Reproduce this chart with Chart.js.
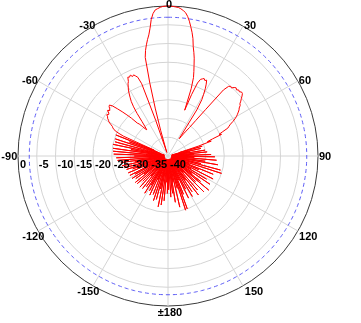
<!DOCTYPE html>
<html><head><meta charset="utf-8">
<script src="https://cdn.jsdelivr.net/npm/chart.js@4.4.1/dist/chart.umd.min.js"></script>
<style>html,body{margin:0;padding:0;background:#fff;}canvas{display:block;}</style>
</head><body>
<canvas id="c" width="361" height="323"></canvas>
<script>
// Angle categories: 1 degree steps, clockwise from 0 (top)
const angleStep = 1;
const angles = Array.from({length: 360 / angleStep}, (_, i) => i * angleStep);

const gain0to89 = [
  0, -0.05, -0.1, -0.2, -0.3, -0.6, -1.0, -1.5, -2.4, -3.6,
  -5.0, -6.4, -8.0, -10.1, -11.5, -13.0, -14.8, -16.4, -18.0, -21.0,
  -27.0, -22.5, -19.0, -17.8, -17.5, -17.2, -17.6, -17.3, -18.3, -19.5,
  -21.0, -22.5, -25.5, -34.5, -33.8, -32.8, -31.8, -30.5, -28.0, -24.0,
  -17.0, -15.4, -15.0, -15.2, -14.6, -14.3, -14.6, -14.2, -14.4, -14.0,
  -14.1, -14.6, -15.2, -15.7, -16.3, -16.5, -17.1, -17.4, -17.9, -18.4,
  -18.9, -19.6, -20.4, -21.3, -21.9, -22.4, -24.0, -25.2, -24.6, -27.3,
  -28.8, -27.8, -31.5, -37, -30.5, -39, -36, -31, -38, -34,
  -39, -30, -37, -38, -29.5, -39, -33, -38, -28.5, -37
];
const gain90to179 = [
  -39, -27.5, -38, -33, -39, -27, -37, -39, -30, -38,
  -26.5, -39, -36, -31, -39, -25.5, -38, -39, -25, -37,
  -34, -39, -27, -38, -31, -39, -37, -26.5, -39, -33,
  -38, -28, -39, -36, -26.5, -38, -32, -39, -29, -37,
  -25.8, -39, -38, -30, -39, -26.5, -37, -34, -39, -28,
  -38, -39, -26.8, -37, -32, -39, -28.5, -38, -35, -27.4,
  -39, -37, -30, -39, -27.5, -38, -33, -39, -29, -37,
  -25, -39, -24.8, -38, -31, -39, -36, -26, -39, -33,
  -37, -27.5, -39, -30, -38, -35, -29, -39, -37, -31
];
const gainMinus180toMinus91 = [
  -39, -30, -37, -33, -39, -28, -38, -35, -26.8, -39,
  -36, -26.2, -39, -31, -38, -28, -39, -35, -27.5, -38,
  -39, -29, -37, -33, -39, -28.5, -38, -36, -29.5, -39,
  -31, -38, -28.3, -39, -35, -30, -38, -39, -29, -37,
  -33, -39, -28.8, -38, -36, -30.5, -39, -34, -29, -38,
  -39, -28.8, -37, -32, -39, -29.5, -38, -35, -28.7, -39,
  -37, -30, -39, -28.6, -38, -33, -39, -28.5, -37, -39,
  -30, -38, -28.4, -39, -34, -28, -38, -39, -27.5, -37,
  -31, -39, -27.3, -38, -35, -26.5, -39, -37, -26.2, -38
];
const gainMinus90toMinus1 = [
  -31, -39, -25.5, -38, -34, -25.3, -39, -36, -25.2, -38,
  -30, -39, -25, -37, -33, -25.4, -39, -35, -25.2, -38,
  -29, -37, -25, -36, -27, -25, -24, -23.5, -23.2, -22.5,
  -21.8, -21.5, -21, -20.8, -20.3, -20.7, -20.5, -19.8, -20.3, -20,
  -19.5, -19.3, -20, -21.5, -23, -24.5, -26, -28, -28.5, -29.5,
  -30.5, -31, -30, -28.5, -26, -24, -22.5, -21.5, -20.5, -19.5,
  -18.8, -18, -17.5, -16.4, -16.6, -16.2, -16.8, -16.5, -17, -17.5,
  -19.5, -30, -39, -38, -33, -27, -20, -13, -11.2, -9.8,
  -8.5, -7.3, -5.6, -3.3, -1.8, -0.9, -0.6, -0.3, -0.1, -0.05
];
const gainDb = [...gain0to89, ...gain90to179, ...gainMinus180toMinus91, ...gainMinus90toMinus1];

const halfPowerDb = -3;
const radialTickValues = [0, -5, -10, -15, -20, -25, -30, -35, -40];
const radialTickLabels = ['0', '-5', '-10', '-15', '-20', '-25', '-30', '-35', '-40'];
const angleTickAngles = [0, 30, 60, 90, 120, 150, 180, 210, 240, 270, 300, 330];
const angleTickLabels = ['0', '30', '60', '90', '120', '150', '\u00b1180', '-150', '-120', '-90', '-60', '-30'];

// label placement styling
const angleLabelRadius = 157;
const angleLabelNudge = [[1,6],[3.5,6],[1,3.5],[0,0.7],[4.3,2.8],[7.5,0.3],[2,-0.3],[-1.2,0.3],[1.3,2.8],[-1.7,0.7],[-2,3.5],[-2.2,6]];
const labelFont = 'bold 11px "Liberation Sans", Arial, sans-serif';

const labelPlugin = {
  id: 'polarLabels',
  afterDraw(chart) {
    const s = chart.scales.r;
    const ctx = chart.ctx;
    ctx.save();
    ctx.font = labelFont;
    ctx.fillStyle = '#000';
    ctx.textBaseline = 'middle';
    ctx.textAlign = 'center';
    angleTickAngles.forEach((a, i) => {
      const p = s.getPointPosition(a / angleStep, angleLabelRadius);
      ctx.fillText(angleTickLabels[i], p.x + angleLabelNudge[i][0], p.y + angleLabelNudge[i][1]);
    });
    ctx.textAlign = 'left';
    radialTickValues.forEach((v, i) => {
      const p = s.getPointPosition(270 / angleStep, s.getDistanceFromCenterForValue(v));
      ctx.fillText(radialTickLabels[i], p.x + 2, p.y + 8.5);
    });
    ctx.restore();
  }
};

new Chart(document.getElementById('c'), {
  type: 'radar',
  data: {
    labels: angles,
    datasets: [
      { data: gainDb, borderColor: '#ff0000', borderWidth: 1, pointRadius: 0, fill: false, tension: 0 },
      { data: angles.map(() => halfPowerDb), borderColor: '#5c5cf5', borderDash: [4, 3], borderWidth: 1, pointRadius: 0, fill: false, tension: 0 }
    ]
  },
  options: {
    responsive: false,
    animation: false,
    layout: { padding: { left: 18, top: 6, right: 43, bottom: 17 } },
    plugins: { legend: { display: false }, tooltip: { enabled: false } },
    scales: {
      r: {
        min: -40, max: 0, startAngle: 0,
        ticks: { display: false, stepSize: 5 },
        pointLabels: { display: false },
        grid: { circular: true, lineWidth: 1, color: (c) => (c.tick && c.tick.value === 0) ? '#3a3a3a' : '#d4d4d4' },
        angleLines: { color: '#d4d4d4', lineWidth: (c) => (c.index % (30 / angleStep) === 0) ? 1 : 0 }
      }
    }
  },
  plugins: [labelPlugin]
});
</script>
</body></html>
